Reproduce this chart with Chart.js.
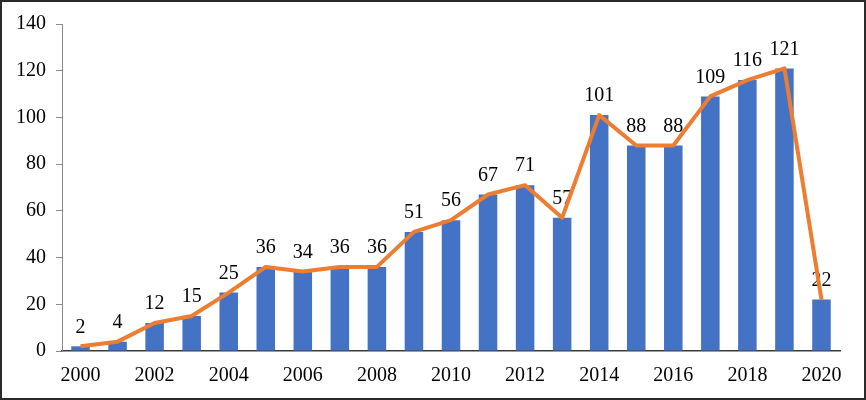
<!DOCTYPE html>
<html lang="en">
  <head>
    <meta charset="UTF-8" />
    <title>Chart</title>
    <script src="https://cdn.jsdelivr.net/npm/chart.js@4.4.0/dist/chart.umd.min.js"></script>
    <style>
      body { margin: 0; background: #fff; }
      #box {
        width: 866px;
        height: 400px;
        box-sizing: border-box;
        border: 2px solid #2b2b2b;
        background: #fff;
      }
    </style>
  </head>
  <body>
    <div id="box">
      <canvas id="chart" width="862" height="396"></canvas>
    </div>
    <script>
      const years = ["2000", "2001", "2002", "2003", "2004", "2005", "2006", "2007", "2008", "2009", "2010",
        "2011", "2012", "2013", "2014", "2015", "2016", "2017", "2018", "2019", "2020"];
      const counts = [2, 4, 12, 15, 25, 36, 34, 36, 36, 51, 56, 67, 71, 57, 101, 88, 88, 109, 116, 121, 22];
      const yTicks = [0, 20, 40, 60, 80, 100, 120, 140];

      const serif = "'Liberation Serif', 'Times New Roman', serif";

      // value labels above the bars, drawn before the line so the line sits on top
      const barLabels = {
        id: "barLabels",
        afterDatasetDraw(chart, args) {
          if (args.index !== 0) return;
          const ctx = chart.ctx;
          const meta = chart.getDatasetMeta(0);
          ctx.save();
          ctx.font = "20px " + serif;
          ctx.fillStyle = "#000";
          ctx.textAlign = "center";
          ctx.textBaseline = "middle";
          meta.data.forEach((bar, i) => {
            ctx.fillText(String(counts[i]), bar.x, bar.y - 19);
          });
          ctx.restore();
        }
      };

      new Chart(document.getElementById("chart"), {
        type: "bar",
        data: {
          labels: years,
          datasets: [
            {
              type: "bar",
              data: counts,
              backgroundColor: "#4472C4",
              categoryPercentage: 1,
              barPercentage: 0.5,
              order: 2
            },
            {
              type: "line",
              data: counts,
              borderColor: "#ED7D31",
              borderWidth: 4,
              pointRadius: 0,
              tension: 0,
              borderJoinStyle: "round",
              fill: false,
              order: 1
            }
          ]
        },
        options: {
          responsive: false,
          animation: false,
          layout: { padding: { left: 4, right: 24, top: 14, bottom: 5 } },
          plugins: { legend: { display: false }, tooltip: { enabled: false } },
          scales: {
            x: {
              grid: { display: false },
              border: { color: "#3a3a3a", width: 1.5 },
              ticks: {
                autoSkip: false,
                maxRotation: 0,
                padding: 5,
                color: "#000",
                font: { family: serif, size: 20 },
                callback: (v, i) => (i % 2 === 0 ? years[i] : "")
              }
            },
            y: {
              min: 0,
              max: 140,
              afterBuildTicks: (axis) => { axis.ticks = yTicks.map((v) => ({ value: v })); },
              grid: { drawOnChartArea: false, tickLength: 6, color: "#8a8a8a" },
              border: { color: "#8a8a8a" },
              ticks: {
                padding: 10,
                color: "#000",
                font: { family: serif, size: 20 }
              }
            }
          }
        },
        plugins: [barLabels]
      });
    </script>
  </body>
</html>
